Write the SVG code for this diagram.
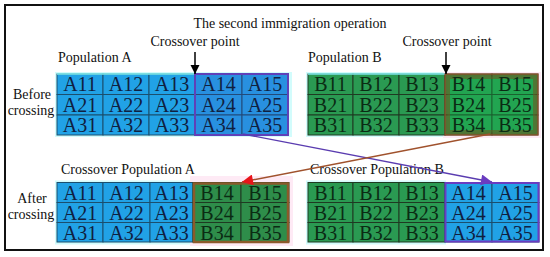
<svg xmlns="http://www.w3.org/2000/svg" width="550" height="257" viewBox="0 0 550 257" font-family="'Liberation Serif', 'DejaVu Serif', serif">
<defs>
<style>
text{font-family:'Liberation Serif','Times New Roman','DejaVu Serif',serif}
.t{font-size:14px;fill:#111}
.c{font-size:20px;text-anchor:middle}
.ca{fill:#21a2e6;stroke:#1b4f6e;stroke-width:1}
.cb{fill:#2a9a52;stroke:#1f3a22;stroke-width:1}
.ta{fill:#102040}
.tb{fill:#0b2b14}
.glowc{fill:#d2fcfc}
.glowp{fill:#feeaf5}
</style>
<marker id="hk" viewBox="0 0 10 10" refX="10" refY="5" markerWidth="9" markerHeight="10" markerUnits="userSpaceOnUse" orient="auto"><path d="M0,0L10,5L0,10z" fill="#000"/></marker>
<marker id="hr" viewBox="0 0 10 10" refX="10" refY="5" markerWidth="16" markerHeight="11" markerUnits="userSpaceOnUse" orient="auto"><path d="M0,0L10,5L0,10z" fill="#e8141a"/></marker>
<marker id="hp" viewBox="0 0 10 10" refX="10" refY="5" markerWidth="16" markerHeight="11" markerUnits="userSpaceOnUse" orient="auto"><path d="M0,0L10,5L0,10z" fill="#6a3cc0"/></marker>
</defs>
<rect x="0" y="0" width="550" height="257" fill="#fff"/>
<rect x="5" y="5" width="538" height="245" fill="none" stroke="#111" stroke-width="2"/>

<g id="glows">
<rect class="glowc" x="55" y="72" width="237" height="65"/>
<rect class="glowc" x="306" y="72" width="141" height="65"/>
<rect class="glowp" x="443" y="72" width="98" height="66"/>
<rect class="glowc" x="55" y="180.5" width="140" height="64"/>
<rect class="glowp" x="190" y="176" width="103" height="70"/>
<rect class="glowc" x="306" y="180.5" width="140" height="64"/>
</g>

<g id="title"><text class="t" x="290" y="28" text-anchor="middle">The second immigration operation</text></g>
<g id="label-popA"><text class="t" x="58" y="62">Population A</text></g>
<g id="label-popB"><text class="t" x="308" y="62">Population B</text></g>
<g id="label-cpA"><text class="t" x="195" y="46" text-anchor="middle">Crossover point</text></g>
<g id="label-cpB"><text class="t" x="447" y="46" text-anchor="middle">Crossover point</text></g>
<g id="label-before"><text class="t" x="32" y="99" text-anchor="middle">Before</text><text class="t" x="31" y="115" text-anchor="middle">crossing</text></g>
<g id="label-after"><text class="t" x="32" y="203" text-anchor="middle">After</text><text class="t" x="31" y="219" text-anchor="middle">crossing</text></g>
<g id="label-coA"><text class="t" x="61" y="174">Crossover Population A</text></g>
<g id="label-coB"><text class="t" x="310" y="174">Crossover Population B</text></g>

<g id="gridA">
<rect class="ca" x="57" y="74" width="46" height="20.5"/><rect class="ca" x="103" y="74" width="46" height="20.5"/><rect class="ca" x="149" y="74" width="46" height="20.5"/><rect class="ca" x="195" y="74" width="47" height="20.5"/><rect class="ca" x="242" y="74" width="46" height="20.5"/>
<rect class="ca" x="57" y="94.5" width="46" height="20.5"/><rect class="ca" x="103" y="94.5" width="46" height="20.5"/><rect class="ca" x="149" y="94.5" width="46" height="20.5"/><rect class="ca" x="195" y="94.5" width="47" height="20.5"/><rect class="ca" x="242" y="94.5" width="46" height="20.5"/>
<rect class="ca" x="57" y="115" width="46" height="20"/><rect class="ca" x="103" y="115" width="46" height="20"/><rect class="ca" x="149" y="115" width="46" height="20"/><rect class="ca" x="195" y="115" width="47" height="20"/><rect class="ca" x="242" y="115" width="46" height="20"/>
<line x1="57" y1="74" x2="195" y2="74" stroke="#7ff0f0" stroke-width="1.5"/>
<rect x="195" y="74" width="93" height="61" fill="#5030c0" fill-opacity="0.15" stroke="#6040b8" stroke-width="2"/>
<g class="c ta">
<text x="80" y="91">A11</text><text x="126" y="91">A12</text><text x="172" y="91">A13</text><text x="218.5" y="91">A14</text><text x="265" y="91">A15</text>
<text x="80" y="111.5">A21</text><text x="126" y="111.5">A22</text><text x="172" y="111.5">A23</text><text x="218.5" y="111.5">A24</text><text x="265" y="111.5">A25</text>
<text x="80" y="132">A31</text><text x="126" y="132">A32</text><text x="172" y="132">A33</text><text x="218.5" y="132">A34</text><text x="265" y="132">A35</text>
</g>
</g>

<g id="gridB">
<rect class="cb" x="308" y="74" width="45" height="20.5"/><rect class="cb" x="353" y="74" width="46" height="20.5"/><rect class="cb" x="399" y="74" width="46" height="20.5"/><rect class="cb" x="445" y="74" width="47" height="20.5"/><rect class="cb" x="492" y="74" width="46" height="20.5"/>
<rect class="cb" x="308" y="94.5" width="45" height="20.5"/><rect class="cb" x="353" y="94.5" width="46" height="20.5"/><rect class="cb" x="399" y="94.5" width="46" height="20.5"/><rect class="cb" x="445" y="94.5" width="47" height="20.5"/><rect class="cb" x="492" y="94.5" width="46" height="20.5"/>
<rect class="cb" x="308" y="115" width="45" height="20"/><rect class="cb" x="353" y="115" width="46" height="20"/><rect class="cb" x="399" y="115" width="46" height="20"/><rect class="cb" x="445" y="115" width="47" height="20"/><rect class="cb" x="492" y="115" width="46" height="20"/>
<line x1="308" y1="74" x2="445" y2="74" stroke="#7ff0f0" stroke-width="1.5"/>
<rect x="447.5" y="76.5" width="88" height="56" fill="#10c050" fill-opacity="0.3" stroke="#6b5a22" stroke-opacity="0.6" stroke-width="5"/>
<rect x="445" y="74" width="93" height="61" fill="none" stroke="#a0522d" stroke-width="1"/>
<g class="c tb">
<text x="330.5" y="91">B11</text><text x="376" y="91">B12</text><text x="422" y="91">B13</text><text x="468.5" y="91">B14</text><text x="515" y="91">B15</text>
<text x="330.5" y="111.5">B21</text><text x="376" y="111.5">B22</text><text x="422" y="111.5">B23</text><text x="468.5" y="111.5">B24</text><text x="515" y="111.5">B25</text>
<text x="330.5" y="132">B31</text><text x="376" y="132">B32</text><text x="422" y="132">B33</text><text x="468.5" y="132">B34</text><text x="515" y="132">B35</text>
</g>
</g>

<g id="crossA">
<rect class="ca" x="57" y="182.5" width="46" height="20"/><rect class="ca" x="103" y="182.5" width="47" height="20"/><rect class="ca" x="150" y="182.5" width="43" height="20"/>
<rect class="ca" x="57" y="202.5" width="46" height="20"/><rect class="ca" x="103" y="202.5" width="47" height="20"/><rect class="ca" x="150" y="202.5" width="43" height="20"/>
<rect class="ca" x="57" y="222.5" width="46" height="19.5"/><rect class="ca" x="103" y="222.5" width="47" height="19.5"/><rect class="ca" x="150" y="222.5" width="43" height="19.5"/>
<rect class="cb" x="193" y="182.5" width="48" height="20" style="fill:#2e8d4a"/><rect class="cb" x="241" y="182.5" width="48" height="20" style="fill:#2e8d4a"/>
<rect class="cb" x="193" y="202.5" width="48" height="20" style="fill:#2e8d4a"/><rect class="cb" x="241" y="202.5" width="48" height="20" style="fill:#2e8d4a"/>
<rect class="cb" x="193" y="222.5" width="48" height="19.5" style="fill:#2e8d4a"/><rect class="cb" x="241" y="222.5" width="48" height="19.5" style="fill:#2e8d4a"/>
<rect x="194" y="183.5" width="94" height="58.5" fill="none" stroke="#8b5a2b" stroke-width="2.5"/>
<g class="c ta">
<text x="80" y="199.5">A11</text><text x="126.5" y="199.5">A12</text><text x="171.5" y="199.5">A13</text>
<text x="80" y="219.5">A21</text><text x="126.5" y="219.5">A22</text><text x="171.5" y="219.5">A23</text>
<text x="80" y="239.5">A31</text><text x="126.5" y="239.5">A32</text><text x="171.5" y="239.5">A33</text>
</g>
<g class="c tb">
<text x="217" y="199.5">B14</text><text x="265" y="199.5">B15</text>
<text x="217" y="219.5">B24</text><text x="265" y="219.5">B25</text>
<text x="217" y="239.5">B34</text><text x="265" y="239.5">B35</text>
</g>
</g>

<g id="crossB">
<rect class="cb" x="308" y="182.5" width="45" height="20"/><rect class="cb" x="353" y="182.5" width="46" height="20"/><rect class="cb" x="399" y="182.5" width="46" height="20"/>
<rect class="cb" x="308" y="202.5" width="45" height="20"/><rect class="cb" x="353" y="202.5" width="46" height="20"/><rect class="cb" x="399" y="202.5" width="46" height="20"/>
<rect class="cb" x="308" y="222.5" width="45" height="19.5"/><rect class="cb" x="353" y="222.5" width="46" height="19.5"/><rect class="cb" x="399" y="222.5" width="46" height="19.5"/>
<rect class="ca" x="445" y="182.5" width="47" height="20"/><rect class="ca" x="492" y="182.5" width="47" height="20"/>
<rect class="ca" x="445" y="202.5" width="47" height="20"/><rect class="ca" x="492" y="202.5" width="47" height="20"/>
<rect class="ca" x="445" y="222.5" width="47" height="19.5"/><rect class="ca" x="492" y="222.5" width="47" height="19.5"/>
<rect x="445.5" y="183" width="93" height="58.5" fill="none" stroke="#6a3cc0" stroke-width="2"/>
<g class="c tb">
<text x="330.5" y="199.5">B11</text><text x="376" y="199.5">B12</text><text x="422" y="199.5">B13</text>
<text x="330.5" y="219.5">B21</text><text x="376" y="219.5">B22</text><text x="422" y="219.5">B23</text>
<text x="330.5" y="239.5">B31</text><text x="376" y="239.5">B32</text><text x="422" y="239.5">B33</text>
</g>
<g class="c ta">
<text x="468.5" y="199.5">A14</text><text x="515.5" y="199.5">A15</text>
<text x="468.5" y="219.5">A24</text><text x="515.5" y="219.5">A25</text>
<text x="468.5" y="239.5">A34</text><text x="515.5" y="239.5">A35</text>
</g>
</g>

<g id="connectors" fill="none">
<line x1="195" y1="52" x2="195" y2="74" stroke="#000" stroke-width="1.5" marker-end="url(#hk)"/>
<line x1="446" y1="52" x2="446" y2="74" stroke="#000" stroke-width="1.5" marker-end="url(#hk)"/>
<line x1="243" y1="134" x2="492" y2="182" stroke="#5a3cb0" stroke-width="1.4" marker-end="url(#hp)"/>
<line x1="490" y1="134" x2="242" y2="182" stroke="#a0522d" stroke-width="1.4" marker-end="url(#hr)"/>
</g>
</svg>
